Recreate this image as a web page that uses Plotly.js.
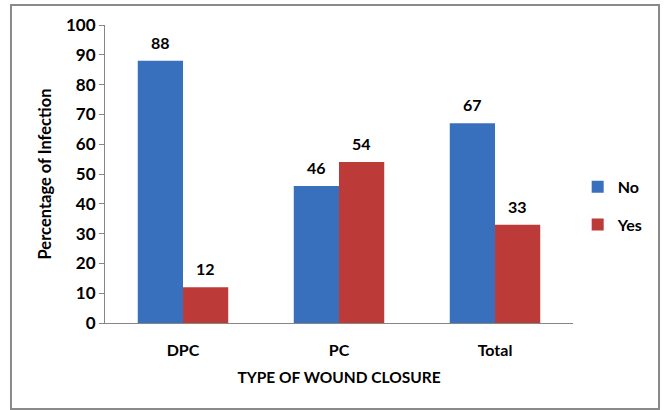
<!DOCTYPE html>
<html><head><meta charset="utf-8">
<script src="https://cdn.plot.ly/plotly-3.0.1.min.js"></script>
<style>html,body{margin:0;padding:0;background:#fff;}#chart{width:664px;height:410px;}</style>
</head><body><div id="chart"></div>
<script>
const categories = ['DPC', 'PC', 'Total'];
const seriesNames = ['No', 'Yes'];
const noValues = [88, 46, 67];
const yesValues = [12, 54, 33];
const yTicks = [0, 10, 20, 30, 40, 50, 60, 70, 80, 90, 100];

const FONT = 'Lato, "Liberation Sans", sans-serif';
const colors = ['#3870BE', '#BC3A37'];
const allValues = [noValues, yesValues];

const traces = allValues.map((vals, i) => ({
  type: 'bar', name: seriesNames[i], x: categories, y: vals,
  marker: {color: colors[i], line: {width: 0}},
  legendgroup: 'g' + i, hoverinfo: 'x+y'
}));

const offsets = [-0.144, 0.144];
const annotations = [];
allValues.forEach((vals, i) => {
  vals.forEach((v, j) => {
    annotations.push({
      x: j + offsets[i], y: v, xref: 'x', yref: 'y', text: '<b>' + v + '</b>',
      showarrow: false, yanchor: 'bottom', yshift: 7,
      font: {family: FONT, size: 16, color: '#000'}
    });
  });
});

const layout = {
  width: 664, height: 410,
  margin: {l: 105, r: 91, t: 25, b: 87, autoexpand: false},
  paper_bgcolor: '#fff', plot_bgcolor: '#fff',
  barmode: 'group', bargap: 0.42, bargroupgap: 0,
  font: {family: FONT, color: '#000'},
  xaxis: {
    type: 'category', showgrid: false, zeroline: false,
    showline: true, linecolor: '#868686', linewidth: 1,
    ticks: '', ticklabelstandoff: 13,
    tickfont: {family: FONT, size: 16, color: '#000', weight: 'bold'},
    title: {text: '<b>TYPE OF WOUND CLOSURE</b>', font: {family: FONT, size: 15.5, color: '#000'}, standoff: 13}
  },
  yaxis: {
    range: [0, 100], tickvals: yTicks, ticktext: yTicks.map(String),
    showgrid: false, zeroline: false,
    showline: true, linecolor: '#868686', linewidth: 1,
    ticks: 'outside', ticklen: 5, tickcolor: '#868686',
    tickfont: {family: FONT, size: 17, color: '#000', weight: 'bold'},
    title: {text: '<b>Percentage of Infection</b>', font: {family: FONT, size: 16.5, color: '#000'}, standoff: 10}
  },
  legend: {
    x: 1.01, xanchor: 'left', y: 0.393, yanchor: 'middle',
    traceorder: 'grouped', tracegroupgap: 14,
    font: {family: FONT, size: 16, color: '#000', weight: 'bold'},
    itemwidth: 30
  },
  showlegend: true,
  annotations: annotations,
  shapes: [{
    type: 'rect', xref: 'paper', yref: 'paper',
    x0: -0.2009, x1: 1.1838, y0: -0.2886, y1: 1.0671,
    line: {color: '#8a8a8a', width: 2}, fillcolor: 'rgba(0,0,0,0)', layer: 'below'
  }]
};

Plotly.newPlot('chart', traces, layout, {displayModeBar: false, staticPlot: true});
</script></body></html>
